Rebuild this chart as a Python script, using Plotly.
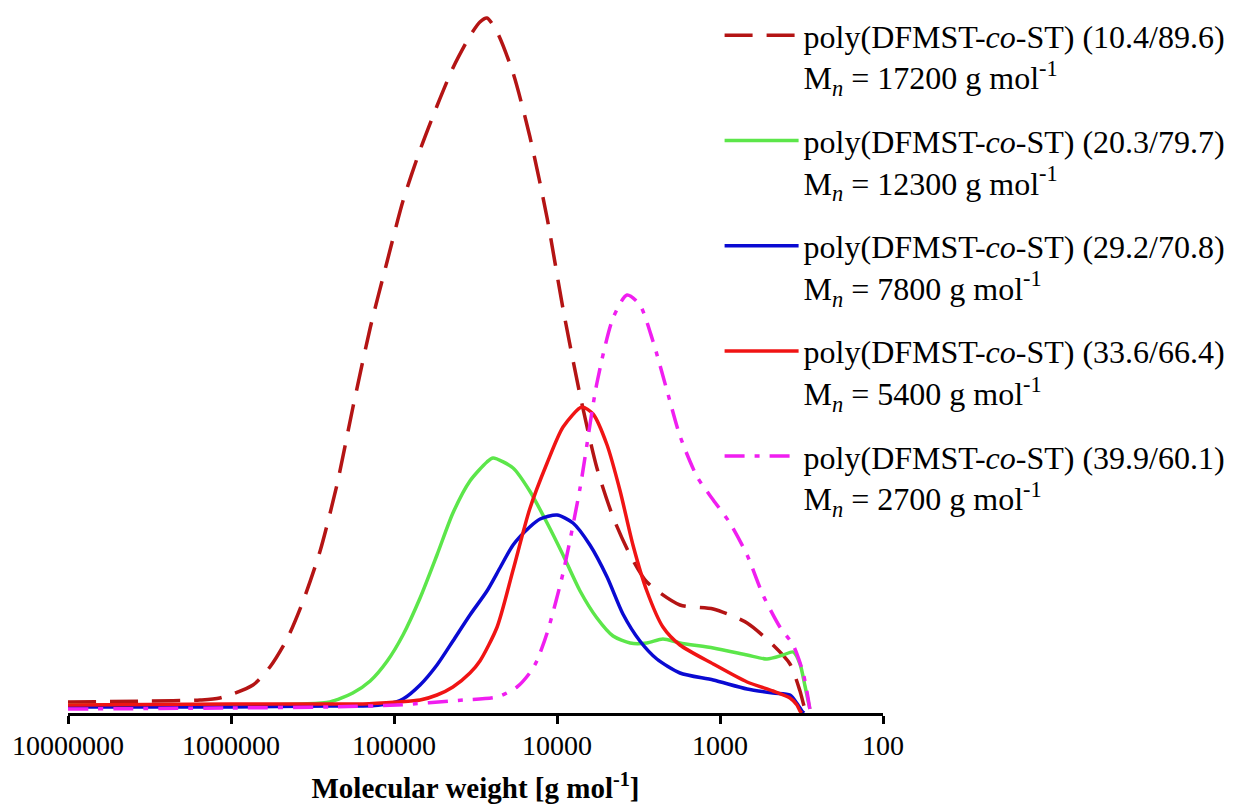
import plotly.graph_objects as go

# Molecular weight (g/mol) and detector response (a.u.)
mw_104 = [1.0e7, 3.14e6, 1.55e6, 1.17e6, 7.33e5, 5.77e5, 4.53e5, 3.61e5, 2.84e5, 2.24e5,
          1.79e5, 1.40e5, 1.10e5, 8.81e4, 6.92e4, 5.45e4, 4.35e4, 3.42e4, 2.97e4, 2.69e4,
          2.33e4, 1.86e4, 1.47e4, 1.15e4, 9.18e3, 7.22e3, 5.69e3, 4.53e3, 3.56e3, 2.81e3,
          1.76e3, 1.10e3, 682, 473, 372, 323, 301, 290]
int_104 = [11, 12, 13, 15, 28, 46, 74, 112, 162, 228,
           305, 385, 452, 512, 563, 607, 645, 677, 691, 695,
           681, 640, 577, 495, 404, 318, 245, 196, 158, 131,
           108, 104, 90, 68, 49, 22, 4, 0]

mw_203 = [1.0e7, 1.0e6, 3.61e5, 2.47e5, 1.79e5, 1.40e5, 1.10e5, 8.81e4, 6.92e4, 5.45e4,
          4.35e4, 3.42e4, 2.69e4, 2.47e4, 1.86e4, 1.47e4, 1.15e4, 9.18e3, 7.22e3, 5.69e3,
          4.53e3, 3.56e3, 2.81e3, 2.24e3, 1.76e3, 1.10e3, 682, 515, 410, 356, 323, 301, 281]
int_203 = [8, 8, 9, 11, 20, 32, 52, 78, 115, 158,
           200, 232, 251, 255, 245, 222, 190, 158, 122, 95,
           77, 70, 70, 74, 70, 65, 58, 54, 58, 61, 49, 27, 4]

mw_292 = [1.0e7, 1.0e6, 2.47e5, 1.55e5, 1.10e5, 8.81e4, 6.92e4, 5.45e4, 4.35e4, 3.42e4,
          2.69e4, 2.24e4, 1.86e4, 1.47e4, 1.27e4, 1.0e4, 7.98e3, 6.28e3, 4.93e3, 3.94e3,
          3.10e3, 2.44e3, 1.76e3, 1.10e3, 682, 473, 372, 332, 314, 305]
int_292 = [6, 6, 7, 7, 9, 14, 28, 48, 72, 98,
           122, 145, 168, 186, 194, 198, 190, 168, 136, 99,
           72, 54, 40, 33, 24, 20, 18, 8, 2, 0]

mw_336 = [1.0e7, 1.0e6, 2.47e5, 1.55e5, 9.59e4, 6.92e4, 5.45e4, 4.35e4, 3.42e4, 2.97e4,
          2.33e4, 1.86e4, 1.47e4, 1.15e4, 9.18e3, 7.03e3, 6.01e3, 4.93e3, 4.10e3, 3.42e3,
          2.81e3, 2.24e3, 1.76e3, 1.10e3, 682, 473, 372, 337, 323, 315]
int_336 = [8, 9, 9, 9, 11, 13, 18, 26, 40, 52,
           86, 143, 204, 250, 286, 306, 299, 268, 222, 168,
           122, 86, 68, 49, 31, 22, 15, 8, 2, 0]

mw_399 = [1.0e7, 1.0e6, 2.47e5, 9.59e4, 3.77e4, 2.33e4, 1.76e4, 1.47e4, 1.33e4, 1.15e4,
          9.18e3, 7.22e3, 5.69e3, 4.53e3, 3.72e3, 3.10e3, 2.58e3, 2.11e3, 1.76e3, 1.38e3,
          1.10e3, 869, 682, 545, 429, 356, 309, 281]
int_399 = [4, 5, 6, 8, 13, 16, 26, 40, 52, 80,
           140, 225, 330, 395, 418, 408, 372, 322, 277, 236,
           213, 190, 158, 118, 86, 68, 40, 4]

labels = [
    "poly(DFMST-<i>co</i>-ST) (10.4/89.6)<br>M<sub><i>n</i></sub> = 17200 g mol<sup>-1</sup>",
    "poly(DFMST-<i>co</i>-ST) (20.3/79.7)<br>M<sub><i>n</i></sub> = 12300 g mol<sup>-1</sup>",
    "poly(DFMST-<i>co</i>-ST) (29.2/70.8)<br>M<sub><i>n</i></sub> = 7800 g mol<sup>-1</sup>",
    "poly(DFMST-<i>co</i>-ST) (33.6/66.4)<br>M<sub><i>n</i></sub> = 5400 g mol<sup>-1</sup>",
    "poly(DFMST-<i>co</i>-ST) (39.9/60.1)<br>M<sub><i>n</i></sub> = 2700 g mol<sup>-1</sup>",
]
tick_vals = [1e7, 1e6, 1e5, 1e4, 1e3, 1e2]
tick_text = ["10000000", "1000000", "100000", "10000", "1000", "100"]

series = [
    (mw_104, int_104, "#B41414", "28px,14px"),
    (mw_203, int_203, "#5CE64A", "solid"),
    (mw_292, int_292, "#0A0AD2", "solid"),
    (mw_336, int_336, "#F01414", "solid"),
    (mw_399, int_399, "#F01EF0", "20px,10px,5px,10px"),
]

fig = go.Figure()
for i, (x, y, c, d) in enumerate(series):
    fig.add_trace(go.Scatter(
        x=x, y=y, mode="lines", name=labels[i], legendgroup=f"g{i}",
        line=dict(color=c, width=3.5, dash=d, shape="spline", smoothing=0.7),
    ))

serif = '"Liberation Serif", "Times New Roman", serif'
fig.update_layout(
    width=1235, height=805,
    margin=dict(l=68, r=352, t=8, b=92, autoexpand=False),
    paper_bgcolor="white", plot_bgcolor="white",
    showlegend=True,
    legend=dict(
        x=0.7995, xanchor="left", y=1.0, yanchor="top",
        font=dict(family=serif, size=32, color="black"),
        itemwidth=74, valign="top", tracegroupgap=19,
        bgcolor="rgba(0,0,0,0)",
    ),
    xaxis=dict(
        type="log", range=[7, 2],
        tickvals=tick_vals, ticktext=tick_text,
        showline=True, linecolor="black", linewidth=3,
        ticks="outside", ticklen=8, tickwidth=2.5, tickcolor="black",
        showgrid=False, zeroline=False,
        tickfont=dict(family=serif, size=28, color="black"),
        ticklabelstandoff=-3,
        title=dict(text="<b>Molecular weight [g mol<sup>-1</sup>]</b>",
                   font=dict(family=serif, size=29, color="black"), standoff=19),
    ),
    yaxis=dict(visible=False, range=[0, 705], showgrid=False, zeroline=False),
)

fig.write_html("out.html", config={"displayModeBar": False},
               post_script="document.body.style.margin='0';")
